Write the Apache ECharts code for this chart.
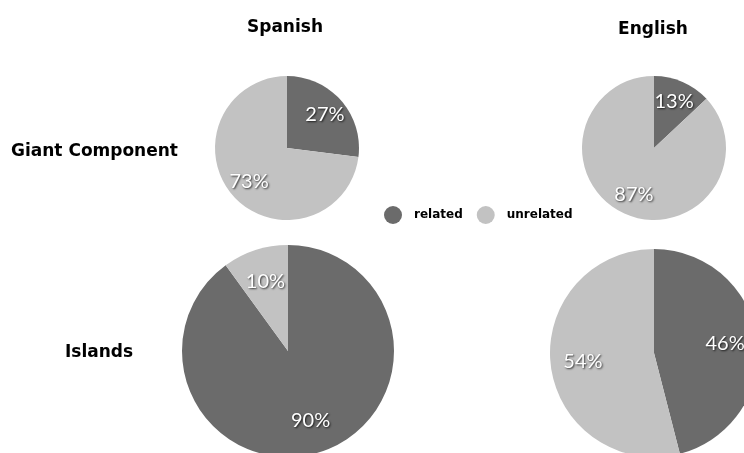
<!DOCTYPE html>
<html>
<head>
<meta charset="utf-8">
<script src="https://cdn.jsdelivr.net/npm/echarts@6/dist/echarts.min.js"></script>
<style>
html,body{margin:0;padding:0;background:#fff;}
#c{width:744px;height:453px;}
</style>
</head>
<body>
<div id="c"></div>
<script>
const categories = ['related', 'unrelated'];
const languages = ['Spanish', 'English'];
const rowsLabels = ['Giant Component', 'Islands'];
const spanishGiant = [27, 73];
const englishGiant = [13, 87];
const spanishIslands = [90, 10];
const englishIslands = [46, 54];

const colors = ['#6b6b6b', '#c2c2c2'];

const pies = [
  { values: spanishGiant, center: [287, 148], r: 72 },
  { values: englishGiant, center: [654, 148], r: 72 },
  { values: spanishIslands, center: [288, 351], r: 106 },
  { values: englishIslands, center: [654, 353], r: 104 }
];

const series = [];
pies.forEach(function (p) {
  const data = categories.map(function (c, i) { return { name: c, value: p.values[i] }; });
  series.push({
    type: 'pie',
    center: p.center,
    radius: p.r,
    startAngle: 90,
    clockwise: true,
    label: { show: false },
    labelLine: { show: false },
    emphasis: { disabled: true },
    itemStyle: { borderWidth: 0 },
    data: data
  });
  series.push({
    type: 'pie',
    center: p.center,
    radius: [p.r * 0.32, p.r],
    startAngle: 90,
    clockwise: true,
    silent: true,
    legendHoverLink: false,
    emphasis: { disabled: true },
    itemStyle: { color: 'rgba(0,0,0,0)', borderWidth: 0 },
    label: {
      show: true,
      position: 'inside',
      formatter: '{c}%',
      color: '#ffffff',
      fontFamily: 'Lato',
      fontSize: 20,
      textShadowColor: 'rgba(0,0,0,0.75)',
      textShadowBlur: 2,
      textShadowOffsetX: 1,
      textShadowOffsetY: 1
    },
    labelLine: { show: false },
    data: categories.map(function (c, i) { return { name: c + ' ', value: p.values[i] }; })
  });
});

const titleStyle = { fontFamily: 'DejaVu Sans', fontWeight: 'bold', fontSize: 17, fill: '#000' };

const chart = echarts.init(document.getElementById('c'), null, { renderer: 'canvas' });
chart.setOption({
  backgroundColor: '#ffffff',
  animation: false,
  color: colors,
  legend: {
    data: categories,
    left: 379,
    top: 201,
    icon: 'circle',
    itemWidth: 18,
    itemHeight: 18,
    itemGap: 14,
    selectedMode: false,
    textStyle: { fontFamily: 'DejaVu Sans', fontWeight: 'bold', fontSize: 12, color: '#000', padding: [0, 0, 0, 7] }
  },
  graphic: [
    { type: 'text', style: Object.assign({ text: languages[0], x: 285, y: 28, textAlign: 'center', textVerticalAlign: 'middle' }, titleStyle) },
    { type: 'text', style: Object.assign({ text: languages[1], x: 653, y: 30, textAlign: 'center', textVerticalAlign: 'middle' }, titleStyle) },
    { type: 'text', style: Object.assign({ text: rowsLabels[0], x: 11, y: 152, textAlign: 'left', textVerticalAlign: 'middle' }, titleStyle) },
    { type: 'text', style: Object.assign({ text: rowsLabels[1], x: 65, y: 353, textAlign: 'left', textVerticalAlign: 'middle' }, titleStyle) }
  ],
  series: series
});
</script>
</body>
</html>
